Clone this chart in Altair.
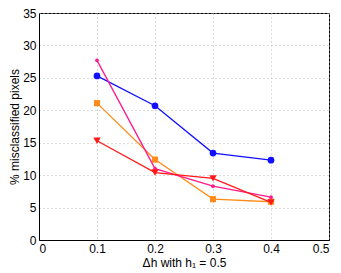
import altair as alt
import pandas as pd

x_vals = [0.1, 0.2, 0.3, 0.4]
blue_circles = [25.3, 20.7, 13.4, 12.3]
orange_squares = [21.1, 12.4, 6.3, 5.9]
pink_dots = [27.7, 11.0, 8.3, 6.6]
red_triangles = [15.3, 10.4, 9.5, 5.8]

series_names = ["A", "B", "C", "D"]
series_vals = [blue_circles, orange_squares, pink_dots, red_triangles]
colors = ["#1010ff", "#ff8c1a", "#ff1a8c", "#ff1a1a"]
shapes = ["circle", "square", "circle", "triangle-down"]
sizes = [45, 38, 14, 55]

xs = alt.X("dh:Q", scale=alt.Scale(domain=[0, 0.5], nice=False),
           axis=alt.Axis(values=[0, 0.1, 0.2, 0.3, 0.4, 0.5],
                         title="Δh with h₁ = 0.5", titlePadding=3,
                         labelExpr="datum.value == 0 ? '0' : format(datum.value, '.1f')"))
ys = alt.Y("pct:Q", scale=alt.Scale(domain=[0, 35], nice=False),
           axis=alt.Axis(values=[0, 5, 10, 15, 20, 25, 30, 35],
                         title="% misclassified pixels", titlePadding=1))

layers = []
for name, vals, c, sh, sz in zip(series_names, series_vals, colors, shapes, sizes):
    d = pd.DataFrame({"dh": x_vals, "pct": vals})
    base = alt.Chart(d)
    layers.append(base.mark_line(color=c, strokeWidth=1.3).encode(x=xs, y=ys))
    layers.append(base.mark_point(filled=True, opacity=1, color=c, shape=sh, size=sz).encode(x=xs, y=ys))

chart = alt.layer(*layers).properties(
    width=290, height=227,
    autosize=alt.AutoSizeParams(type="none"),
    padding={"left": 31, "top": 5, "right": 4, "bottom": 33},
).configure_view(stroke="black", strokeWidth=1).configure_axis(
    grid=True, gridColor="#bbbbbb", gridDash=[1, 3], gridWidth=1,
    domainColor="black", ticks=False, labelPadding=3,
    labelFont="Liberation Sans", labelFontSize=12, labelColor="black",
    titleFont="Liberation Sans", titleFontSize=12, titleFontWeight="normal", titleColor="black",
)

chart.save("out.html", embed_options={"renderer": "svg", "actions": False})
